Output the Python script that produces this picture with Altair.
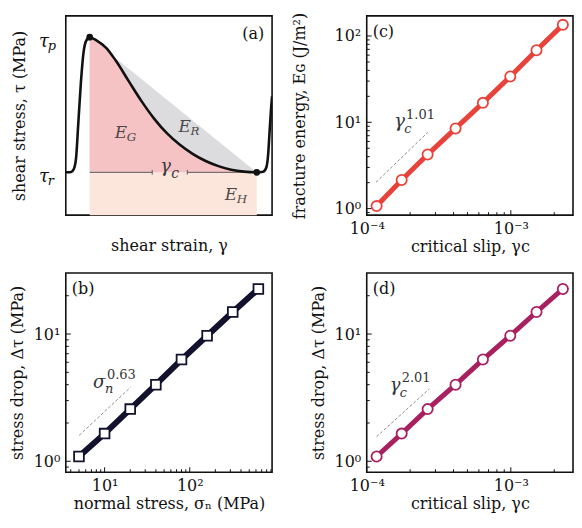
import math
import altair as alt
import pandas as pd

FONT = "DejaVu Serif"
W, H = 207, 200
INK = "#111111"
GUIDE = "#8c8c8c"
FS = 16

# ---------------- data ----------------
# (a) schematic stress-strain curve, normalised so that tau_r = 0 and tau_p = 1
curve_strain = [0.000, 0.011, 0.026, 0.039, 0.050, 0.060, 0.073, 0.085, 0.098, 0.116,
                0.150, 0.197, 0.243, 0.305, 0.367, 0.429, 0.491, 0.553, 0.615, 0.678,
                0.740, 0.802, 0.864, 0.926, 0.957, 0.972, 0.981, 0.987, 0.995, 1.000]
curve_stress = [0.000, 0.000, 0.002, 0.024, 0.108, 0.348, 0.660, 0.875, 0.971, 1.000,
                0.975, 0.920, 0.825, 0.675, 0.527, 0.396, 0.288, 0.204, 0.137, 0.084,
                0.046, 0.019, 0.005, 0.000, 0.005, 0.036, 0.132, 0.276, 0.468, 0.563]
peak_point = [0.116, 1.0]
residual_point = [0.926, 0.0]
gamma_gap = [0.419, 0.589]
energy_main = ["E", "E", "E"]
energy_sub = ["G", "R", "H"]
energy_strain = [0.237, 0.546, 0.771]
energy_stress = [0.252, 0.300, -0.204]
gamma_label_pos = [0.458, 0.0]
tau_main = ["τ", "τ"]
tau_sub = ["p", "r"]
tau_level = [1.0, 0.0]

# (b) stress drop vs normal stress
normal_stress = [5, 10, 20, 40, 80, 160, 320, 640]
stress_drop = [1.09, 1.65, 2.57, 4.0, 6.3, 9.7, 14.9, 22.6]

# (c), (d) vs critical slip
critical_slip = [1.171e-4, 1.748e-4, 2.646e-4, 4.134e-4, 6.40e-4, 9.91e-4, 1.507e-3, 2.296e-3]
fracture_energy = [1.07, 2.15, 4.23, 8.49, 16.8, 34.0, 68.4, 134.6]

# dashed guide lines and slope labels
guide_b_x, guide_b_y = [5.03, 20.2], [1.60, 3.82]
guide_c_x, guide_c_y = [1.16e-4, 2.65e-4], [2.02, 7.64]
guide_d_x, guide_d_y = [1.17e-4, 2.72e-4], [1.56, 3.71]
slope_b = {"x": 7.3, "y": 3.80, "main": "σ", "sub": "n", "sup": "0.63"}
slope_c = {"x": 1.55e-4, "y": 8.71, "main": "γ", "sub": "c", "sup": "1.01"}
slope_d = {"x": 1.445e-4, "y": 3.54, "main": "γ", "sub": "c", "sup": "2.01"}

# axis domains and ticks
dom_a_x, dom_a_y = [0.0, 1.0], [-0.317, 1.158]
dom_b_x, dom_bd_y = [3.5, 927], [0.82, 30.2]
dom_cd_x, dom_c_y = [1e-4, 2.7e-3], [0.84, 171]
ticks_b_x_major = [10, 100]
ticks_b_x_minor = [4, 5, 6, 7, 8, 9, 20, 30, 40, 50, 60, 70, 80, 90,
                   200, 300, 400, 500, 600, 700, 800, 900]
ticks_bd_y_major = [1, 10]
ticks_bd_y_minor = [0.9, 2, 3, 4, 5, 6, 7, 8, 9, 20]
ticks_cd_x_major = [1e-4, 1e-3]
ticks_cd_x_minor = [2e-4, 3e-4, 4e-4, 5e-4, 6e-4, 7e-4, 8e-4, 9e-4, 2e-3]
ticks_c_y_major = [1, 10, 100]
ticks_c_y_minor = [0.9, 2, 3, 4, 5, 6, 7, 8, 9, 20, 30, 40, 50, 60, 70, 80, 90]

RED = "#e8433b"
NAVY = "#12122e"
MAGENTA = "#a8205f"

SUP = str.maketrans("-0123456789", "⁻⁰¹²³⁴⁵⁶⁷⁸⁹")


def pow10(e):
    return "10" + str(e).translate(SUP)


def label_expr(vals):
    expr = "''"
    for v in reversed(vals):
        e = int(round(math.log10(v)))
        expr = f"(abs(log(datum.value)/LN10 - ({e})) < 0.01 ? '{pow10(e)}' : {expr})"
    return expr


def tag_layer(text, x, y, align="left"):
    return alt.Chart(pd.DataFrame({"t": [text]})).mark_text(
        align=align, baseline="middle", fontSize=FS, color=INK
    ).encode(text="t:N", x=alt.value(x), y=alt.value(y))


# ---------------- panel (a) ----------------
xa_scale = alt.Scale(domain=dom_a_x, nice=False, zero=False)
ya_scale = alt.Scale(domain=dom_a_y, nice=False, zero=False)
xa_axis = alt.Axis(title="shear strain, γ", labels=False, titlePadding=22)
ya_axis = alt.Axis(title="shear stress, τ  (MPa)", labels=False, titlePadding=38)


def XA(f):
    return alt.X(f, type="quantitative", scale=xa_scale, axis=xa_axis)


def YA(f):
    return alt.Y(f, type="quantitative", scale=ya_scale, axis=ya_axis)


a_df = pd.DataFrame({"strain": curve_strain, "stress": curve_stress})

eh = alt.Chart(pd.DataFrame({"x0": [peak_point[0]], "x1": [residual_point[0]],
                             "y0": [dom_a_y[0]], "y1": [residual_point[1]]})).mark_rect(
    color="#fce6dc").encode(x=XA("x0"), x2=alt.X2("x1"), y=YA("y0"), y2=alt.Y2("y1"))

er = alt.Chart(pd.DataFrame({"strain": [peak_point[0], residual_point[0]],
                             "stress": [peak_point[1], residual_point[1]],
                             "base": [residual_point[1]] * 2})).mark_area(
    color="#dcdcdf").encode(x=XA("strain"), y=YA("stress"), y2=alt.Y2("base"))

eg = alt.Chart(a_df).transform_filter(
    f"datum.strain >= {peak_point[0]} && datum.strain <= {residual_point[0]}"
).transform_calculate(base=f"{residual_point[1]}").mark_area(
    color="#f6c3c5", interpolate="monotone").encode(
    x=XA("strain"), y=YA("stress"), y2=alt.Y2("base"))

gamma_rule = alt.Chart(pd.DataFrame({"x0": [peak_point[0], gamma_gap[1]],
                                     "x1": [gamma_gap[0], residual_point[0]],
                                     "y": [residual_point[1]] * 2})).mark_rule(
    color="#5a5a5a", strokeWidth=1).encode(x=XA("x0"), x2=alt.X2("x1"), y=YA("y"))

gamma_ticks = alt.Chart(pd.DataFrame({"x": gamma_gap, "y": [residual_point[1]] * 2})).mark_point(
    shape="M0,-1L0,1", size=22, stroke="#5a5a5a", strokeWidth=1, filled=False, opacity=1
).encode(x=XA("x"), y=YA("y"))

curve = alt.Chart(a_df).mark_line(color=INK, strokeWidth=2.6, interpolate="monotone",
                                  clip=True).encode(x=XA("strain"), y=YA("stress"))

dots = alt.Chart(pd.DataFrame({"strain": [peak_point[0], residual_point[0]],
                               "stress": [peak_point[1], residual_point[1]]})).mark_circle(
    size=45, color=INK, opacity=1).encode(x=XA("strain"), y=YA("stress"))

e_df = pd.DataFrame({"main": energy_main, "sub": energy_sub,
                     "strain": energy_strain, "stress": energy_stress})
e_main = alt.Chart(e_df).mark_text(align="left", baseline="alphabetic", fontSize=17,
                                   fontStyle="italic", color="#4d4646").encode(
    x=XA("strain"), y=YA("stress"), text="main:N")
e_sub = alt.Chart(e_df).mark_text(align="left", baseline="alphabetic", fontSize=12,
                                  fontStyle="italic", color="#4d4646", dx=12, dy=3).encode(
    x=XA("strain"), y=YA("stress"), text="sub:N")

g_df = pd.DataFrame({"strain": [gamma_label_pos[0]], "stress": [gamma_label_pos[1]],
                     "main": ["γ"], "sub": ["c"]})
g_main = alt.Chart(g_df).mark_text(align="left", baseline="alphabetic", fontSize=18,
                                   fontStyle="italic", color="#3a3a3a").encode(
    x=XA("strain"), y=YA("stress"), text="main:N")
g_sub = alt.Chart(g_df).mark_text(align="left", baseline="alphabetic", fontSize=14,
                                  fontStyle="italic", color="#3a3a3a", dx=11, dy=6).encode(
    x=XA("strain"), y=YA("stress"), text="sub:N")

t_df = pd.DataFrame({"main": tau_main, "sub": tau_sub, "level": tau_level})
t_main = alt.Chart(t_df).mark_text(align="left", baseline="alphabetic", fontSize=18,
                                   fontStyle="italic", color=INK, dy=10).encode(
    x=alt.value(-27), y=YA("level"), text="main:N")
t_sub = alt.Chart(t_df).mark_text(align="left", baseline="alphabetic", fontSize=13,
                                  fontStyle="italic", color=INK, dx=9, dy=13).encode(
    x=alt.value(-27), y=YA("level"), text="sub:N")

panel_a = alt.layer(eh, er, eg, gamma_rule, gamma_ticks, curve, dots, e_main, e_sub,
                    g_main, g_sub, t_main, t_sub, tag_layer("(a)", W - 8, 18, "right")
                    ).properties(width=W, height=H)


# ---------------- log-log panels ----------------
def log_panel(xs, ys, xdom, ydom, xtitle, ytitle, ytitle_pad,
              xmaj, xmin, ymaj, ymin, color, shape, lw, psize,
              gx, gy, slope, tag, script_dx=10):
    xscale = alt.Scale(type="log", domain=xdom, nice=False)
    yscale = alt.Scale(type="log", domain=ydom, nice=False)
    xaxis = alt.Axis(title=xtitle, values=xmaj, labelExpr=label_expr(xmaj),
                     labelFlush=False, labelPadding=5, titlePadding=2)
    yaxis = alt.Axis(title=ytitle, values=ymaj, labelExpr=label_expr(ymaj),
                     labelPadding=6, titlePadding=ytitle_pad)

    def X(f):
        return alt.X(f, type="quantitative", scale=xscale, axis=xaxis)

    def Y(f):
        return alt.Y(f, type="quantitative", scale=yscale, axis=yaxis)

    layers = []
    for vals, ln in ((xmaj, 5), (xmin, 3)):
        layers.append(alt.Chart(pd.DataFrame({"v": vals})).mark_rule(
            color=INK, strokeWidth=1).encode(x=X("v"), y=alt.value(H), y2=alt.value(H - ln)))
    for vals, ln in ((ymaj, 5), (ymin, 3)):
        layers.append(alt.Chart(pd.DataFrame({"v": vals})).mark_rule(
            color=INK, strokeWidth=1).encode(y=Y("v"), x=alt.value(0), x2=alt.value(ln)))

    layers.append(alt.Chart(pd.DataFrame({"x": gx, "y": gy})).mark_line(
        color=GUIDE, strokeWidth=1, strokeDash=[3, 2]).encode(x=X("x"), y=Y("y")))

    df = pd.DataFrame({"x": xs, "y": ys})
    layers.append(alt.Chart(df).mark_line(color=color, strokeWidth=lw).encode(
        x=X("x"), y=Y("y")))
    layers.append(alt.Chart(df).mark_point(
        shape=shape, filled=True, fill="white", stroke=color, strokeWidth=1.8,
        size=psize, opacity=1).encode(x=X("x"), y=Y("y")))

    s_df = pd.DataFrame([slope])
    layers.append(alt.Chart(s_df).mark_text(
        align="left", baseline="alphabetic", fontSize=18, fontStyle="italic",
        color="#333333").encode(x=X("x"), y=Y("y"), text="main:N"))
    layers.append(alt.Chart(s_df).mark_text(
        align="left", baseline="alphabetic", fontSize=13, fontStyle="italic",
        color="#333333", dx=script_dx, dy=6).encode(x=X("x"), y=Y("y"), text="sub:N"))
    layers.append(alt.Chart(s_df).mark_text(
        align="left", baseline="alphabetic", fontSize=13, color="#333333",
        dx=script_dx + 2, dy=-9).encode(x=X("x"), y=Y("y"), text="sup:N"))
    layers.append(tag_layer(tag, 6, 16))
    return alt.layer(*layers).properties(width=W, height=H)


panel_c = log_panel(critical_slip, fracture_energy, dom_cd_x, dom_c_y,
                    "critical slip, γc", "fracture energy, Eɢ  (J/m²)", 27,
                    ticks_cd_x_major, ticks_cd_x_minor, ticks_c_y_major, ticks_c_y_minor,
                    RED, "circle", 5, 105, guide_c_x, guide_c_y, slope_c, "(c)")

panel_b = log_panel(normal_stress, stress_drop, dom_b_x, dom_bd_y,
                    "normal stress, σₙ  (MPa)", "stress drop, Δτ  (MPa)", 8,
                    ticks_b_x_major, ticks_b_x_minor, ticks_bd_y_major, ticks_bd_y_minor,
                    NAVY, "square", 6, 95, guide_b_x, guide_b_y, slope_b, "(b)",
                    script_dx=12)

panel_d = log_panel(critical_slip, stress_drop, dom_cd_x, dom_bd_y,
                    "critical slip, γc", "stress drop, Δτ  (MPa)", 8,
                    ticks_cd_x_major, ticks_cd_x_minor, ticks_bd_y_major, ticks_bd_y_minor,
                    MAGENTA, "circle", 5, 105, guide_d_x, guide_d_y, slope_d, "(d)")

chart = alt.concat(panel_a, panel_c, panel_b, panel_d, columns=2,
                   spacing={"row": 17, "column": 17}).properties(
    padding=0
).configure_view(
    stroke=INK, strokeWidth=1.6
).configure_axis(
    labelFont=FONT, titleFont=FONT, labelFontSize=FS, titleFontSize=FS,
    titleFontWeight="normal", labelColor=INK, titleColor=INK,
    grid=False, domain=False, ticks=False, tickSize=0
).configure_text(font=FONT)

chart.save("out.html", embed_options={"renderer": "svg", "actions": False})
